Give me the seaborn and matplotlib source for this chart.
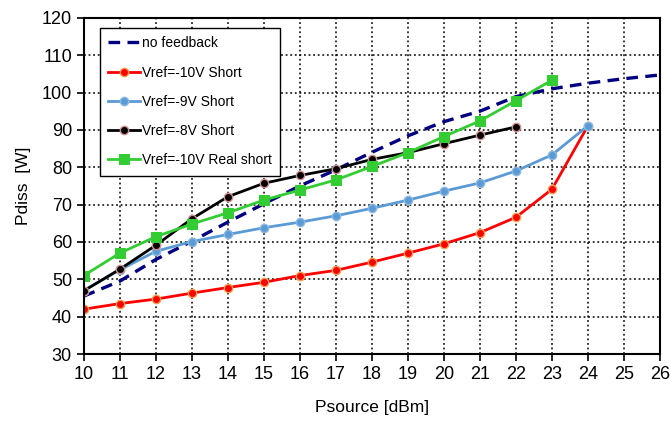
import numpy as np
import pandas as pd
import matplotlib
matplotlib.use('Agg')
import matplotlib.pyplot as plt
import seaborn as sns

# Psource [dBm]
psource = [10, 11, 12, 13, 14, 15, 16, 17, 18, 19, 20, 21, 22, 23, 24, 25, 26]

no_feedback = [45.5, 49.5, 55.3, 60.2, 65.3, 70.2, 75.0, 79.3, 84.0, 88.4, 92.2, 95.0, 98.9, 101.0, 102.5, 103.7, 104.7]
vref_10_short = [42.0, 43.5, 44.7, 46.3, 47.8, 49.2, 51.0, 52.4, 54.6, 57.0, 59.5, 62.5, 66.6, 74.1, 91.1]
vref_9_short = [47.0, 52.5, 57.5, 60.1, 62.0, 63.8, 65.3, 67.0, 69.0, 71.2, 73.6, 75.8, 79.0, 83.3, 91.1]
vref_8_short = [46.9, 52.7, 59.1, 66.2, 72.1, 75.7, 77.8, 79.6, 82.1, 83.9, 86.3, 88.6, 90.8]
vref_10_real = [51.0, 57.0, 61.4, 64.8, 67.8, 71.2, 73.9, 76.6, 80.2, 83.9, 88.2, 92.4, 97.8, 103.3]

plt.rcParams['font.family'] = ['Liberation Sans', 'DejaVu Sans']
fig = plt.figure(figsize=(6.7, 4.24), dpi=100)
ax = fig.add_axes([0.125, 0.165, 0.86, 0.793])

sns.lineplot(x=psource, y=no_feedback, ax=ax, color='#000080', lw=2.4,
             linestyle=(0, (3.5, 2.2)), label='no feedback')
sns.lineplot(x=psource[:len(vref_10_short)], y=vref_10_short, ax=ax, color='#ff0000', lw=2,
             marker='o', markersize=6, markeredgecolor='#f0a050', markeredgewidth=1,
             label='Vref=-10V Short')
sns.lineplot(x=psource[:len(vref_9_short)], y=vref_9_short, ax=ax, color='#5b9bd5', lw=2,
             marker='o', markersize=6, markeredgecolor='#8fb8e0', markeredgewidth=1,
             label='Vref=-9V Short')
sns.lineplot(x=psource[:len(vref_8_short)], y=vref_8_short, ax=ax, color='#000000', lw=2,
             marker='o', markersize=6, markeredgecolor='#d09090', markeredgewidth=1,
             label='Vref=-8V Short')
sns.lineplot(x=psource[:len(vref_10_real)], y=vref_10_real, ax=ax, color='#33cc33', lw=2,
             marker='s', markersize=6.5, markeredgecolor='#33cc33',
             label='Vref=-10V Real short')

ax.set_xlim(10, 26)
ax.set_ylim(30, 120)
ax.set_xticks(range(10, 27))
ax.set_yticks(range(30, 121, 10))
ax.grid(True, color='black', linestyle=(0, (1.2, 1.8)), linewidth=1.1)
ax.tick_params(labelsize=13, length=5, direction='out', width=1.2)
for s in ax.spines.values():
    s.set_linewidth(1.5)
ax.set_xlabel('Psource [dBm]', fontsize=12.5, labelpad=12)
ax.set_ylabel('Pdiss  [W]', fontsize=12.5, labelpad=8)

leg = ax.legend(loc='upper left', bbox_to_anchor=(0.028, 0.97), borderaxespad=0, fontsize=10,
                frameon=True, fancybox=False, edgecolor='black', framealpha=1,
                handlelength=2.3, labelspacing=1.1, borderpad=0.6, handletextpad=0.1)
leg.get_frame().set_linewidth(1)

fig.savefig('out.png', dpi=100)
